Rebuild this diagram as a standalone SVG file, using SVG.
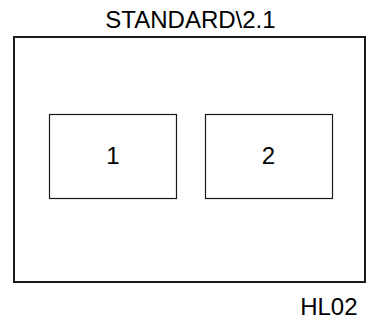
<svg xmlns="http://www.w3.org/2000/svg" width="368" height="323" viewBox="0 0 368 323">
<style>
.box{fill:#fff;stroke:#1a1a1a;stroke-width:1.2}
.outer{fill:#fff;stroke:#1a1a1a;stroke-width:2}
.lbl{font-family:"Liberation Sans",Arial,sans-serif;font-size:24px;fill:#000;text-anchor:middle}
</style>
<rect width="368" height="323" fill="#fff"/>
<g id="container">
<rect class="outer" x="14" y="37" width="351" height="245"/>
<text class="lbl" x="190.5" y="28">STANDARD\2.1</text>
<text class="lbl" x="357.5" y="315" style="text-anchor:end">HL02</text>
</g>
<g id="node1">
<rect class="box" x="49.5" y="114.5" width="127" height="84"/>
<text class="lbl" x="113" y="164">1</text>
</g>
<g id="node2">
<rect class="box" x="205.5" y="114.5" width="127" height="84"/>
<text class="lbl" x="268.5" y="164">2</text>
</g>
<g id="connectors"/>
</svg>
